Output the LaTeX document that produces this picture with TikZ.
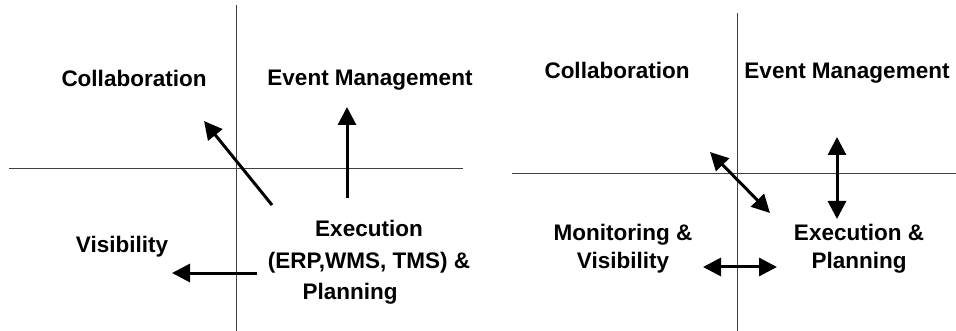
\documentclass[tikz,border=0pt]{standalone}
\usepackage{fontspec}
\setmainfont{Liberation Sans}
\usetikzlibrary{arrows.meta}
\begin{document}
\begin{tikzpicture}[x=1pt,y=-1pt,
  lbl/.style={font=\fontsize{22.5}{31}\selectfont\bfseries, inner sep=0pt, anchor=base, align=center},
  lbltwo/.style={font=\fontsize{22.5}{28}\selectfont\bfseries, inner sep=0pt, align=center},
  axis/.style={line width=1pt, draw=black!75},
  arr/.style={line width=3pt, -{Triangle[length=18pt,width=18pt]}},
  darr/.style={line width=3pt, {Triangle[length=18pt,width=18pt]}-{Triangle[length=18pt,width=18pt]}}]
\useasboundingbox (0,0) rectangle (956,331);
% ---------- left panel ----------
\coordinate (lvt) at (236,5);  \coordinate (lvb) at (236,331);
\coordinate (lhl) at (9,169);  \coordinate (lhr) at (463,169);
\draw[axis] (lvt) -- (lvb);
\draw[axis] (lhl) -- (lhr);
\node[lbl] (collabL) at (134,87) {Collaboration};
\node[lbl] (eventL) at (370,86) {Event Management};
\node[lbl] (visL) at (122,252) {Visibility};
\node[lbltwo, font=\fontsize{22.5}{31.5}\selectfont\bfseries, anchor=north] (execL) at (369,220) {Execution\\(ERP,WMS, TMS) \&\\Planning\hspace*{38pt}};
\coordinate (upS) at (347,198); \coordinate (upE) at (347,107);
\coordinate (dgS) at (272,205); \coordinate (dgE) at (204,121);
\coordinate (lfS) at (257,273); \coordinate (lfE) at (172,273);
\draw[arr] (upS) -- (upE);
\draw[arr] (dgS) -- (dgE);
\draw[arr] (lfS) -- (lfE);
% ---------- right panel ----------
\coordinate (rvt) at (737,13);  \coordinate (rvb) at (737,331);
\coordinate (rhl) at (512,174); \coordinate (rhr) at (956,174);
\draw[axis] (rvt) -- (rvb);
\draw[axis] (rhl) -- (rhr);
\node[lbl] (collabR) at (617,79) {Collaboration};
\node[lbl] (eventR) at (847,79) {Event Management};
\node[lbltwo, anchor=north] (monR) at (623,224) {Monitoring \&\\Visibility};
\node[lbltwo, anchor=north] (execR) at (859,224) {Execution \&\\Planning};
\coordinate (vA) at (837,137); \coordinate (vB) at (837,219);
\coordinate (dA) at (710,152); \coordinate (dB) at (770,213);
\coordinate (hA) at (703,267); \coordinate (hB) at (777,267);
\draw[darr] (vA) -- (vB);
\draw[darr] (dA) -- (dB);
\draw[darr] (hA) -- (hB);
\end{tikzpicture}
\end{document}
